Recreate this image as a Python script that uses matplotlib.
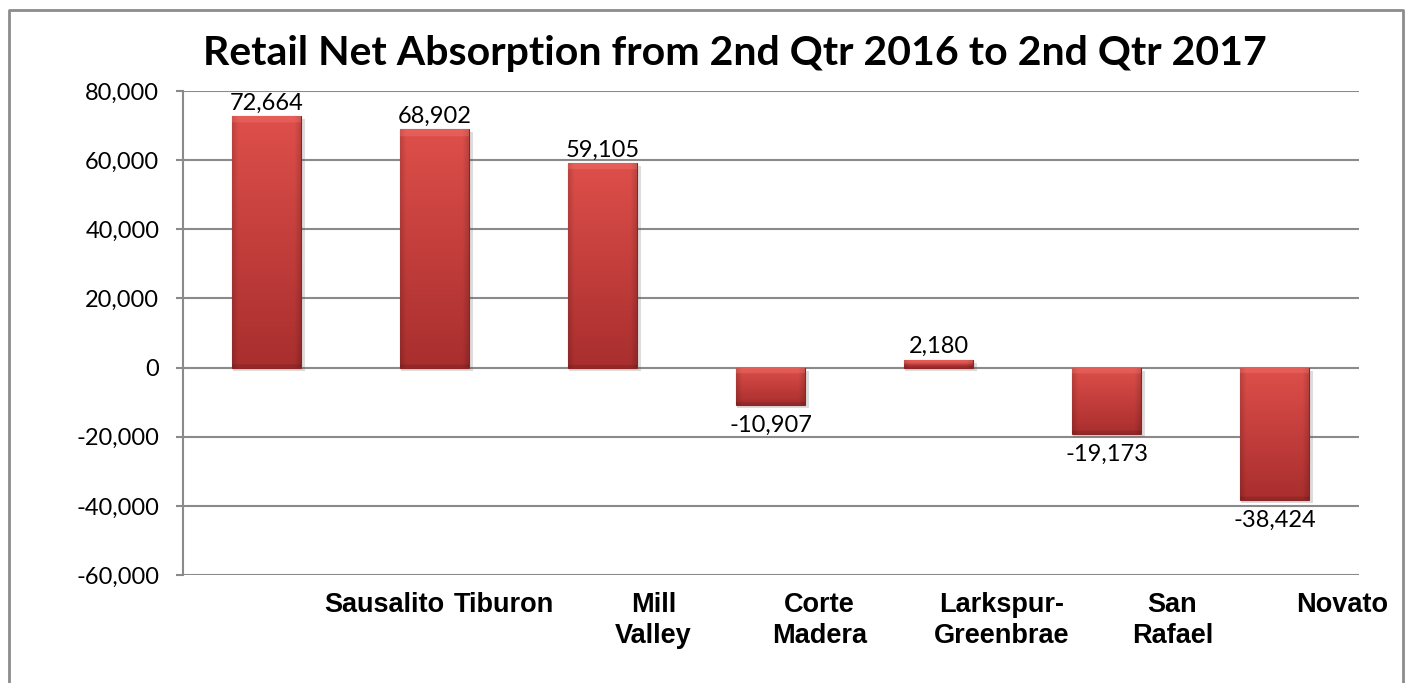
import matplotlib.pyplot as plt
import matplotlib.transforms as mtransforms
from matplotlib.ticker import FuncFormatter
import numpy as np

# data
cities = ["Sausalito", "Tiburon", "Mill\nValley", "Corte\nMadera",
          "Larkspur-\nGreenbrae", "San\nRafael", "Novato"]
absorption = [72664, 68902, 59105, -10907, 2180, -19173, -38424]
label_shift = [0.70, 0.41, 0.30, 0.29, 0.375, 0.39, 0.40]  # excel puts the category labels off-centre
yticks = np.arange(-60000, 80001, 20000)

fig = plt.figure(figsize=(14.05, 6.83), dpi=100)
ax = fig.add_axes([0.1302, 0.1581, 0.8370, 0.7087])

x = np.arange(len(cities))
ax.set_xlim(-0.5, len(cities) - 0.5)
ax.set_ylim(-60000, 80000)

# soft shadow behind the bars
shadow_tr = mtransforms.offset_copy(ax.transData, fig=fig, x=2, y=-3, units="dots")
ax.bar(x, absorption, width=0.43, color="#606060", alpha=0.22, transform=shadow_tr,
       zorder=2, linewidth=0)

bars = ax.bar(x, absorption, width=0.41, color="#c83c3a", edgecolor="#8c2424",
              linewidth=0.8, zorder=3)

# gradient fill + bevel for each bar
light = np.array([0.87, 0.31, 0.29])
dark = np.array([0.66, 0.18, 0.18])
fig.canvas.draw()
for b in bars:
    x0, y0 = b.get_x(), b.get_y()
    w, h = b.get_width(), b.get_height()
    ylo, yhi = min(y0, y0 + h), max(y0, y0 + h)
    p0 = ax.transData.transform((x0, ylo))
    p1 = ax.transData.transform((x0 + w, yhi))
    hpx = max(p1[1] - p0[1], 1)
    wpx = p1[0] - p0[0]
    nr, nc = 200, 80
    t = np.linspace(0, 1, nr)[:, None]
    s = np.linspace(0, 1, nc)[None, :]
    img = light[None, None, :] * (1 - t[..., None]) + dark[None, None, :] * t[..., None]
    img = np.broadcast_to(img, (nr, nc, 3)).copy()
    # darker sides
    side = np.clip(1 - np.minimum(s, 1 - s) * wpx / 6, 0, 1)
    img *= (1 - 0.15 * side)[..., None]
    # bevel at the top edge
    bev = min(6 / hpx, 0.45)
    top = (t < bev).repeat(nc, axis=1)
    img[top] = img[top] * 0.75 + np.array([1.0, 0.55, 0.52]) * 0.25
    # darker lower edge
    bot = (t > 1 - min(3 / hpx, 0.3)).repeat(nc, axis=1)
    img[bot] *= 0.88
    img = np.clip(img, 0, 1)
    im = ax.imshow(img, extent=[x0, x0 + w, ylo, yhi], aspect="auto", origin="upper",
                   interpolation="bilinear", zorder=3.5)
    im.set_clip_path(b)

ax.set_xlim(-0.5, len(cities) - 0.5)
ax.set_ylim(-60000, 80000)

# value labels
for xi, v in zip(x, absorption):
    if v >= 0:
        ax.annotate(f"{v:,}", (xi, v), xytext=(0, 2), textcoords="offset points",
                    ha="center", va="bottom", fontsize=17, family="Lato", zorder=5)
    else:
        ax.annotate(f"{v:,}", (xi, v), xytext=(0, -7), textcoords="offset points",
                    ha="center", va="top", fontsize=17, family="Lato", zorder=5)

# axes styling
ax.set_yticks(yticks)
ax.yaxis.set_major_formatter(FuncFormatter(lambda v, p: f"{v:,.0f}"))
ax.tick_params(axis="y", labelsize=17, length=5, width=1.5, color="#8a8a8a", pad=12)
for lab in ax.get_yticklabels():
    lab.set_family("Lato")
ax.grid(axis="y", color="#8a8a8a", linewidth=1.5, zorder=0)
ax.set_axisbelow(True)
for side in ["top", "right", "bottom"]:
    ax.spines[side].set_visible(False)
ax.spines["left"].set_color("#8a8a8a")
ax.spines["left"].set_linewidth(1.5)

ax.set_xticks(x + np.array(label_shift))
ax.set_xticklabels(cities, fontsize=19.5, fontweight="bold", family="Liberation Sans",
                   linespacing=1.25)
ax.tick_params(axis="x", length=0, pad=12)

fig.text(0.523, 0.9048, "Retail Net Absorption from 2nd Qtr 2016 to 2nd Qtr 2017",
         ha="center", va="baseline", fontsize=29.5, fontweight="bold", family="Lato")

# chart-area border (bottom edge runs off the picture)
kw = dict(color="#8c8c8c", linewidth=2, transform=fig.transFigure)
fig.add_artist(plt.Line2D([0.0064, 0.0064, 0.9986, 0.9986], [-0.1, 0.9854, 0.9854, -0.1], **kw))

fig.savefig("out.png", dpi=100)
